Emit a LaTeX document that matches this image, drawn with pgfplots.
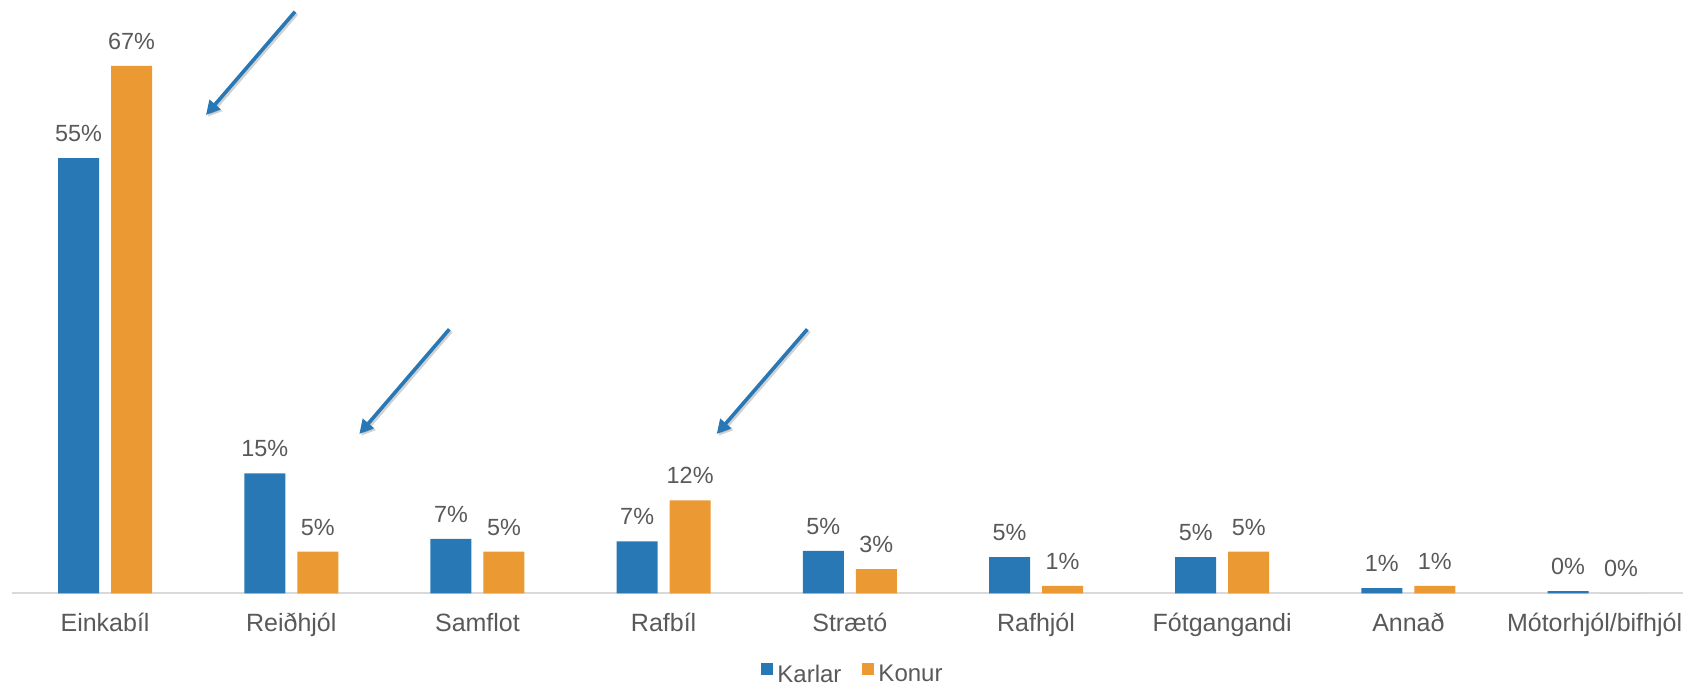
\documentclass[border=0pt]{standalone}
\usepackage{pgfplots}
\pgfplotsset{compat=1.18}
\usepackage{fontspec}
\setmainfont{Liberation Sans}
\usetikzlibrary{arrows.meta}
\definecolor{kblue}{HTML}{2778B4}
\definecolor{korange}{HTML}{EB9A33}
\definecolor{txt}{HTML}{595959}
\definecolor{axl}{HTML}{D9D9D9}
\begin{document}
\begin{tikzpicture}
\useasboundingbox (0,0) rectangle (841.5pt,342.5pt);
\begin{axis}[
  at={(6pt,45.75pt)}, anchor=south west,
  scale only axis, width=835.5pt, height=296.75pt,
  xmin=-0.5, xmax=8.475, ymin=0, ymax=75.13,
  ybar=6pt, bar width=20.5pt,
  axis x line*=bottom, axis y line=none,
  x axis line style={draw=axl, line width=1pt},
  clip=false,
  /pgf/number format/assume math mode=true,
  xtick={0,...,8},
  xticklabels={Einkabíl,Reiðhjól,Samflot,Rafbíl,Strætó,Rafhjól,Fótgangandi,Annað,Mótorhjól/bifhjól},
  major tick length=0pt,
  xticklabel style={font=\fontsize{12.5}{14}\selectfont, text=txt, anchor=base, yshift=-19pt},
  nodes near coords={\pgfmathprintnumber[fixed,precision=0,assume math mode=true]{\pgfplotspointmeta}\%},
  nodes near coords style={font=\fontsize{11.7}{13}\selectfont, text=txt, anchor=base, inner sep=0pt, yshift=8.3pt},
  legend columns=2,
  legend style={draw=none, fill=none, font=\fontsize{12}{13}\selectfont, text=txt,
    at={(axis description cs:0.5,0)}, anchor=center, xshift=3.25pt, yshift=-40.75pt,
    /tikz/every even column/.append style={column sep=8.5pt}},
]
\addplot[fill=kblue, draw=none, legend image code/.code={\fill[kblue] (0pt,0pt) rectangle (6pt,6pt);}]
  coordinates {(0,55.1) (1,15.2) (2,6.9) (3,6.6) (4,5.4) (5,4.6) (6,4.6) (7,0.67) (8,0.3)};
\addlegendentry{Karlar}
\addplot[fill=korange, draw=none, legend image code/.code={\fill[korange] (0pt,0pt) rectangle (6pt,6pt);}]
  coordinates {(0,66.8) (1,5.3) (2,5.3) (3,11.8) (4,3.1) (5,0.95) (6,5.3) (7,0.95) (8,0)};
\addlegendentry{Konur}
\end{axis}
\begin{scope}[shift={(0.9pt,-0.9pt)}]
  \draw[line width=1.8pt, black, opacity=0.18, -{Triangle[length=7pt,width=7pt]}] (147.5pt,336.65pt) -- (103pt,285pt);
  \draw[line width=1.8pt, black, opacity=0.18, -{Triangle[length=7pt,width=7pt]}] (224.65pt,177.85pt) -- (179.65pt,125.5pt);
  \draw[line width=1.8pt, black, opacity=0.18, -{Triangle[length=7pt,width=7pt]}] (403.65pt,177.85pt) -- (358.35pt,125.5pt);
\end{scope}
\draw[line width=1.8pt, kblue, -{Triangle[length=7pt,width=7pt]}] (147.5pt,336.65pt) -- (103pt,285pt);
\draw[line width=1.8pt, kblue, -{Triangle[length=7pt,width=7pt]}] (224.65pt,177.85pt) -- (179.65pt,125.5pt);
\draw[line width=1.8pt, kblue, -{Triangle[length=7pt,width=7pt]}] (403.65pt,177.85pt) -- (358.35pt,125.5pt);
\end{tikzpicture}
\end{document}
